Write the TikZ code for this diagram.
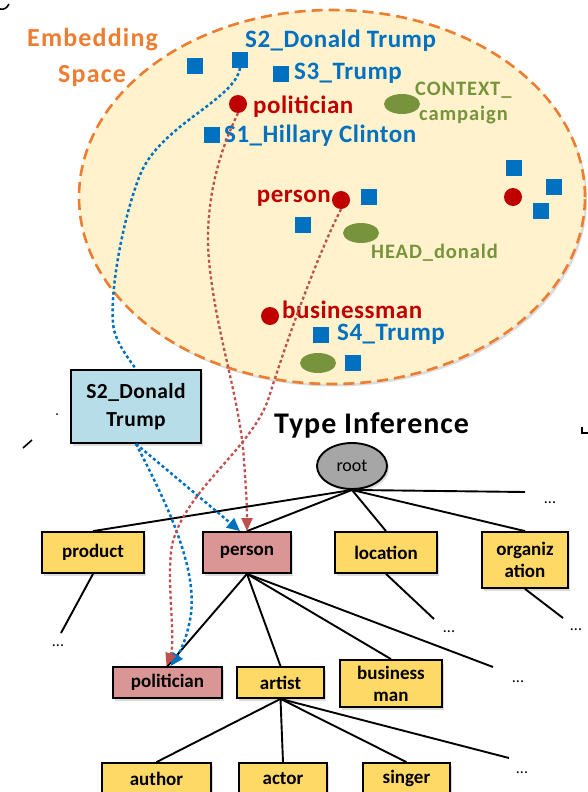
\documentclass[tikz,border=0pt]{standalone}
\usepackage{fontspec}
\setmainfont{Carlito}
\newfontfamily\spacedA[LetterSpace=2]{Carlito}
\newfontfamily\spacedB[LetterSpace=3.2]{Carlito}
\newfontfamily\spacedC[LetterSpace=4.5]{Carlito}
\usetikzlibrary{shapes.geometric,shadows,arrows.meta}

\definecolor{embOrange}{RGB}{237,125,49}
\definecolor{embFill}{RGB}{255,242,204}
\definecolor{mBlue}{RGB}{0,112,192}
\definecolor{mRed}{RGB}{192,0,0}
\definecolor{mGreen}{RGB}{119,147,60}
\definecolor{linkRed}{RGB}{192,80,77}
\definecolor{boxBlue}{RGB}{183,222,232}
\definecolor{boxYellow}{RGB}{255,217,102}
\definecolor{boxPink}{RGB}{217,150,148}
\definecolor{rootGray}{RGB}{166,166,166}

\begin{document}
\begin{tikzpicture}[x=1pt,y=-1pt,
  softshadow/.style={drop shadow={opacity=0.28,shadow xshift=2pt,shadow yshift=-2.5pt}},
  espace/.style={draw=embOrange,fill=embFill,line width=2.6pt,dash pattern=on 11pt off 6pt,softshadow},
  bsq/.style={rectangle,fill=mBlue,minimum size=15.5pt,inner sep=0pt},
  rdot/.style={circle,fill=mRed,minimum size=18pt,inner sep=0pt},
  gell/.style={ellipse,fill=mGreen,minimum width=36pt,minimum height=20pt,inner sep=0pt},
  lbl/.style={font=\spacedA\bfseries\fontsize{25}{30}\selectfont,inner sep=0pt,anchor=base west},
  bluelbl/.style={lbl,text=mBlue},
  redlbl/.style={lbl,text=mRed},
  greenlbl/.style={font=\spacedC\bfseries\fontsize{20.5}{26}\selectfont,inner sep=0pt,anchor=base west,text=mGreen},
  orangelbl/.style={lbl,text=embOrange,font=\spacedC\bfseries\fontsize{26}{30}\selectfont},
  tbox/.style={draw=black,line width=1.8pt,inner sep=0pt,align=center,
    font=\bfseries\fontsize{19}{22}\selectfont,softshadow},
  ybox/.style={tbox,fill=boxYellow},
  pbox/.style={tbox,fill=boxPink},
  tree/.style={draw=black,line width=1.9pt},
  more/.style={font=\fontsize{16}{18}\selectfont,inner sep=0pt},
  bdot/.style={draw=mBlue,line width=2.5pt,dash pattern=on 3pt off 2.6pt},
  rlink/.style={draw=linkRed,line width=2.3pt,dash pattern=on 3pt off 2.6pt},
  btip/.style={-{Triangle[length=13pt,width=12pt,fill=mBlue]}},
  rtip/.style={-{Triangle[length=13pt,width=11pt,fill=linkRed]}},
]
\useasboundingbox (0,0) rectangle (588,792);

% ---------- embedding space ----------
\draw[espace] (332,197) ellipse [x radius=253pt, y radius=187pt];

\node[orangelbl] (embA) at (27,47) {Embedding};
\node[orangelbl] (embB) at (58,82) {Space};

% mention squares
\node[bsq] (b1) at (195,66) {};
\node[bsq] (b2) at (240,60) {};
\node[bsq] (b3) at (281,74) {};
\node[bsq] (b4) at (212,135) {};
\node[bsq] (b5) at (369,197) {};
\node[bsq] (b6) at (303,225) {};
\node[bsq] (b7) at (514,168) {};
\node[bsq] (b8) at (554,187) {};
\node[bsq] (b9) at (541,211) {};
\node[bsq] (b10) at (321,335) {};
\node[bsq] (b11) at (353,363) {};

% type dots
\node[rdot] (dpol) at (238,104) {};
\node[rdot] (dper) at (341,200) {};
\node[rdot] (dother) at (513,197) {};
\node[rdot] (dbus) at (270,316) {};

% feature ellipses
\node[gell] (gctx) at (402,104) {};
\node[gell] (ghead) at (361,233) {};
\node[gell] (gmisc) at (318,363) {};

% labels
\node[bluelbl] (ls2) at (245,48) {S2\_Donald Trump};
\node[bluelbl] (ls3) at (294,79) {S3\_Trump};
\node[redlbl] (lpol) at (253,113) {politician};
\node[bluelbl] (ls1) at (224,142) {S1\_Hillary Clinton};
\node[greenlbl] (lctx) at (415,95) {CONTEXT\_};
\node[greenlbl] (lcmp) at (419,120) {campaign};
\node[redlbl,anchor=base east] (lper) at (331,202) {person};
\node[greenlbl] (lhead) at (371,258) {HEAD\_donald};
\node[redlbl] (lbus) at (282,318) {businessman};
\node[bluelbl] (ls4) at (337,340) {S4\_Trump};

% ---------- mention box and heading ----------
\node[tbox,fill=boxBlue,minimum width=130pt,minimum height=73pt,
      font=\spacedA\bfseries\fontsize{21.5}{28}\selectfont] (s2box) at (136,406.5) {S2\_Donald\\Trump};
\node[font=\spacedB\bfseries\fontsize{30}{34}\selectfont,inner sep=0pt,anchor=base west] (title) at (274,433) {Type Inference};

% ---------- type tree ----------
\node[ellipse,draw=black,line width=1.9pt,fill=rootGray,minimum width=70pt,minimum height=46pt,
      inner sep=0pt,font=\fontsize{18}{20}\selectfont,softshadow] (root) at (352,466) {root};

\node[ybox,minimum width=102pt,minimum height=41pt] (product) at (93,552.5) {product};
\node[pbox,minimum width=88pt,minimum height=41pt] (person) at (247,552.5) {person};
\node[ybox,minimum width=102pt,minimum height=41pt] (location) at (386,552.5) {location};
\node[ybox,minimum width=86pt,minimum height=56pt] (org) at (525,560) {organiz\\ation};

\node[pbox,minimum width=109pt,minimum height=31pt] (politician) at (167.5,682.5) {politician};
\node[ybox,minimum width=87pt,minimum height=31pt] (artist) at (280.5,682.5) {artist};
\node[ybox,minimum width=102pt,minimum height=47pt] (bizman) at (391,683.5) {business\\man};

\node[ybox,minimum width=109pt,minimum height=31pt] (author) at (156.5,778.5) {author};
\node[ybox,minimum width=88pt,minimum height=31pt] (actor) at (283,778.5) {actor};
\node[ybox,minimum width=87pt,minimum height=31pt] (singer) at (406.5,778.5) {singer};

% open ends of the tree
\coordinate (eRoot) at (525,492);
\coordinate (eProd) at (61,633);
\coordinate (eLoc) at (434,619);
\coordinate (eOrg) at (563,618);
\coordinate (ePer) at (493,667);
\coordinate (eArt) at (509,758);
\node[more] (mRoot) at (550,503) {...};
\node[more] (mProd) at (58,646) {...};
\node[more] (mLoc) at (449,632) {...};
\node[more] (mOrg) at (576,630) {...};
\node[more] (mPer) at (518,682) {...};
\node[more] (mArt) at (522,773) {...};

\draw[tree] (root.south) -- (product.north);
\draw[tree] (root.south) -- (person.north);
\draw[tree] (root.south) -- (location.north);
\draw[tree] (root.south) -- (org.north);
\draw[tree] (root.south) -- (eRoot);
\draw[tree] (product.south) -- (eProd);
\draw[tree] (location.south) -- (eLoc);
\draw[tree] (org.south) -- (eOrg);
\draw[tree] (person.south) -- (politician.north);
\draw[tree] (person.south) -- (artist.north);
\draw[tree] (person.south) -- (bizman.north);
\draw[tree] (person.south) -- (ePer);
\draw[tree] (artist.south) -- (author.north);
\draw[tree] (artist.south) -- (actor.north);
\draw[tree] (artist.south) -- (singer.north);
\draw[tree] (artist.south) -- (eArt);

% ---------- links from embeddings to the tree ----------
\draw[bdot] (b2.south) .. controls (235,100) and (160,125) .. (140,175)
  .. controls (122,220) and (108,300) .. (114,330)
  .. controls (118,345) and (128,358) .. (s2box.north);
\draw[bdot,btip] (s2box.south) -- ([xshift=-7pt]person.north);
\draw[bdot,btip] (s2box.south) .. controls (165,500) and (200,570) .. (190,620)
  .. controls (185,645) and (178,655) .. ([xshift=3pt]politician.north);

\draw[rlink,rtip] (dpol.south) .. controls (215,160) and (203,215) .. (210,270)
  .. controls (218,340) and (240,400) .. (244,460)
  .. controls (246,490) and (247,505) .. (person.north);
\draw[rlink,rtip] (dper.south) .. controls (320,250) and (290,330) .. (268,400)
  .. controls (250,450) and (185,490) .. (172,545)
  .. controls (166,580) and (176,640) .. ([xshift=-1pt]politician.north);

% ---------- stray marks at the edges ----------
\draw[line width=1.6pt] (0,9) .. controls (4,10) and (7,8) .. (9,4);
\draw[line width=1.6pt] (23,448) -- (32,440);
\fill (57,414) circle (1pt);
\draw[line width=1.6pt] (582,427) -- (582,433) -- (588,433);
\end{tikzpicture}
\end{document}
